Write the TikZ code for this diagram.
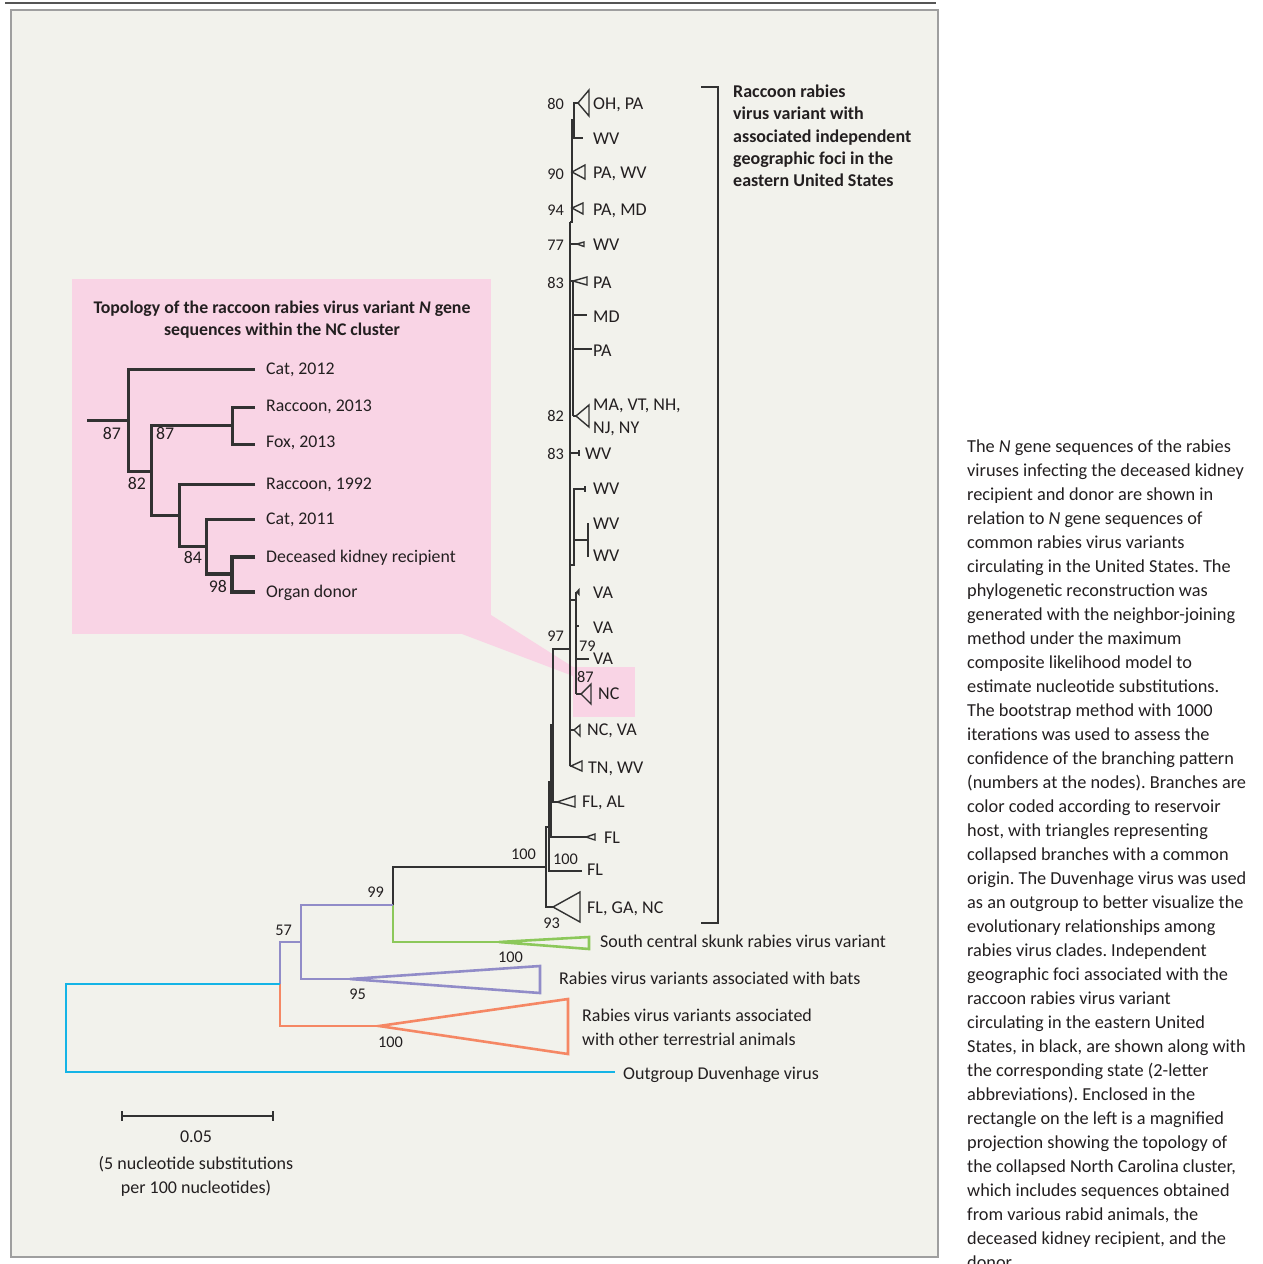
\documentclass[tikz,border=0pt]{standalone}
\usepackage{fontspec}
\setmainfont{Carlito}
\frenchspacing
\definecolor{panel}{RGB}{242,242,236}
\definecolor{pinkbg}{RGB}{249,212,229}
\definecolor{tree}{RGB}{50,50,50}
\definecolor{grn}{RGB}{140,200,90}
\definecolor{pur}{RGB}{145,140,200}
\definecolor{org}{RGB}{245,135,100}
\definecolor{cyn}{RGB}{20,180,230}
\definecolor{txt}{RGB}{35,31,32}
\definecolor{rule}{RGB}{85,85,85}
\begin{document}
\begin{tikzpicture}[x=1pt,y=-1pt,
  tl/.style={draw=tree,line width=1.4pt,line join=miter},
  it/.style={draw=tree,line width=3pt,line join=miter},
  itb/.style={draw=tree,line width=4.8pt,line join=miter},
  pl/.style={draw=pur,line width=2.6pt,line join=miter},
  gl/.style={draw=grn,line width=2.6pt,line join=miter},
  ol/.style={draw=org,line width=2.6pt,line join=miter},
  cl/.style={draw=cyn,line width=2.6pt,line join=miter},
  lab/.style={anchor=west,inner sep=0pt,text=txt,font=\fontsize{18}{22}\selectfont,text height=11.6pt,text depth=0pt},
  ilab/.style={anchor=west,inner sep=0pt,text=txt,font=\fontsize{17.8}{22}\selectfont,text height=11.5pt,text depth=0pt},
  inum/.style={anchor=east,inner sep=0pt,text=txt,font=\fontsize{17.8}{22}\selectfont,text height=11.5pt,text depth=0pt},
  bs/.style={anchor=east,inner sep=0pt,text=txt,font=\fontsize{16.3}{19}\selectfont,text height=10.5pt,text depth=0pt},
  bsl/.style={bs,anchor=west},
  bold/.style={anchor=west,inner sep=0pt,text=txt,font=\fontsize{18}{22}\selectfont\bfseries,text height=11.6pt,text depth=0pt},
  ctr/.style={anchor=center,inner sep=0pt,text=txt,font=\fontsize{18}{22}\selectfont,text height=11.6pt,text depth=0pt},
  rt/.style={anchor=base west,inner sep=0pt,text=txt,font=\fontsize{18.3}{24}\selectfont}]
\useasboundingbox[fill=white] (0,0) rectangle (1262,1264);
% frame
\draw[rule,line width=2.2pt] (5,3) -- (936,3);
\draw[fill=panel,draw=gray!75,line width=1.2pt] (11,10) rectangle (938,1257);
% pink inset and callout
\fill[pinkbg] (72,279) rectangle (491,634);
\fill[pinkbg] (491,615) -- (573,667) -- (573,676) -- (462,634) -- cycle;
\fill[pinkbg] (573,667) rectangle (635,717);
% inset title
\node[anchor=center,inner sep=0pt,text=txt,font=\fontsize{17.8}{22}\selectfont\bfseries] (ti1) at (282,309) {Topology of the raccoon rabies virus variant \textit{N} gene};
\node[anchor=center,inner sep=0pt,text=txt,font=\fontsize{17.8}{22}\selectfont\bfseries] (ti2) at (282,331) {sequences within the NC cluster};
% inset tree
\draw[it] (87,420) -- (128,420);
\draw[it] (255,369) -- (128,369) -- (128,471) -- (151,471);
\draw[it] (255,407) -- (232,407) -- (232,444) -- (255,444);
\draw[it] (232,425) -- (151,425) -- (151,515) -- (179,515);
\draw[it] (255,484) -- (179,484) -- (179,546) -- (206,546);
\draw[it] (255,519) -- (206,519) -- (206,575);
\draw[itb] (205,574) -- (232,574);
\draw[itb] (255,557) -- (232,557) -- (232,592) -- (255,592);
\node[ilab] (c12) at (266,369) {Cat, 2012};
\node[ilab] (r13) at (266,406) {Raccoon, 2013};
\node[ilab] (f13) at (266,442) {Fox, 2013};
\node[ilab] (r92) at (266,484) {Raccoon, 1992};
\node[ilab] (c11) at (266,519) {Cat, 2011};
\node[ilab] (dkr) at (266,557) {Deceased kidney recipient};
\node[ilab] (odn) at (266,592) {Organ donor};
\node[inum] (i87a) at (121,434) {87};
\node[inum,anchor=west] (i87b) at (156,434) {87};
\node[inum] (i82) at (146,484) {82};
\node[inum] (i84) at (202,558) {84};
\node[inum] (i98) at (227,587) {98};
% ---- main tree (black) ----
\draw[tl] (578,103) -- (574,103) -- (574,138) -- (583,138);
\draw[tl] (578,103) -- (589,90) -- (589,116) -- cycle;
\draw[tl] (574,120) -- (572,120) -- (572,222) -- (570,222);
\draw[tl] (572,172) -- (585,165) -- (585,179) -- cycle;
\draw[tl] (572,208) -- (583,203) -- (583,214) -- cycle;
\draw[tl] (570,222) -- (570,766);
\draw[tl] (570,244) -- (577,244);
\draw[tl] (577,244) -- (584,242) -- (584,246.5) -- cycle;
\draw[tl] (570,281) -- (573,281);
\draw[tl] (573,281) -- (587,277) -- (587,285) -- cycle;
\draw[tl] (573,281) -- (573,416);
\draw[tl] (573,315) -- (587,315);
\draw[tl] (573,349) -- (592,349);
\draw[tl] (573,416) -- (576,416);
\draw[tl] (576,416) -- (589,405) -- (589,427) -- cycle;
\draw[tl] (570,453) -- (579,453);
\draw[tl] (579,450) -- (579,456);
\draw[tl] (585,489) -- (574,489) -- (574,565) -- (570,565);
\draw[tl] (585,486) -- (585,492);
\draw[tl] (574,540) -- (588,540);
\draw[tl] (588,523) -- (588,557);
\draw[tl] (570,600) -- (576,600);
\draw[tl] (576,592) -- (576,694);
\fill[tree] (576,592) -- (579.5,588) -- (579.5,596) -- cycle;
\draw[tl] (576,626) -- (578.5,626);
\draw[tl] (576,659) -- (589,659);
\draw[tl] (576,694) -- (581,694);
\draw[tl] (581,694) -- (591,684) -- (591,704) -- cycle;
\draw[tl] (570,730) -- (574,730);
\draw[tl] (574,730) -- (580,725) -- (580,736) -- cycle;
\draw[tl] (570,766) -- (571,766);
\draw[tl] (571,766) -- (582,761) -- (582,771) -- cycle;
\draw[tl] (570,649) -- (553,649) -- (553,802) -- (557,802);
\draw[tl] (557,802) -- (575,796) -- (575,807) -- cycle;
\draw[tl] (553,725) -- (551,725) -- (551,837) -- (586,837);
\draw[tl] (586,837) -- (595,834) -- (595,840) -- cycle;
\draw[tl] (551,782) -- (549,782) -- (549,871) -- (582,871);
\draw[tl] (549,827) -- (546,827) -- (546,907) -- (553,907);
\draw[tl] (553,907) -- (580,892) -- (580,922) -- cycle;
\draw[tl] (546,867) -- (393,867) -- (393,905);
% ---- coloured clades ----
\draw[gl] (393,905) -- (393,942) -- (499,942);
\draw[gl] (499,942) -- (589,937) -- (589,949) -- cycle;
\draw[pl] (393,905) -- (301,905) -- (301,979) -- (350,979);
\draw[pl] (350,979) -- (540,966) -- (540,993) -- cycle;
\draw[pl] (301,942) -- (280,942) -- (280,984);
\draw[ol] (280,984) -- (280,1026) -- (379,1026);
\draw[ol] (379,1026) -- (568,999) -- (568,1054) -- cycle;
\draw[cl] (280,984) -- (66,984) -- (66,1072) -- (615,1072);
% ---- state labels ----
\node[lab] (l1) at (593,104) {OH, PA};
\node[lab] (l2) at (593,139) {WV};
\node[lab] (l3) at (593,173) {PA, WV};
\node[lab] (l4) at (593,210) {PA, MD};
\node[lab] (l5) at (593,245) {WV};
\node[lab] (l6) at (593,283) {PA};
\node[lab] (l7) at (593,317) {MD};
\node[lab] (l8) at (593,351) {PA};
\node[lab] (l9) at (593,405) {MA, VT, NH,};
\node[lab] (l9b) at (593,428) {NJ, NY};
\node[lab] (l10) at (585,454) {WV};
\node[lab] (l11) at (593,489) {WV};
\node[lab] (l12) at (593,524) {WV};
\node[lab] (l13) at (593,556) {WV};
\node[lab] (l14) at (593,593) {VA};
\node[lab] (l15) at (593,628) {VA};
\node[lab] (l16) at (593,659) {VA};
\node[lab] (l17) at (598,694) {NC};
\node[lab] (l18) at (587,730) {NC, VA};
\node[lab] (l19) at (588,768) {TN, WV};
\node[lab] (l20) at (582,802) {FL, AL};
\node[lab] (l21) at (604,838) {FL};
\node[lab] (l22) at (587,870) {FL};
\node[lab] (l23) at (587,908) {FL, GA, NC};
\node[lab] (sk) at (600,942) {South central skunk rabies virus variant};
\node[lab] (bat) at (559,979) {Rabies virus variants associated with bats};
\node[lab] (ter1) at (582,1016) {Rabies virus variants associated};
\node[lab] (ter2) at (582,1040) {with other terrestrial animals};
\node[lab] (out) at (623,1074) {Outgroup Duvenhage virus};
% ---- bootstrap values ----
\node[bs] (b80) at (564,104) {80};
\node[bs] (b90) at (564,174) {90};
\node[bs] (b94) at (564,210) {94};
\node[bs] (b77) at (564,245) {77};
\node[bs] (b83a) at (564,283) {83};
\node[bs] (b82) at (564,416) {82};
\node[bs] (b83b) at (564,454) {83};
\node[bs] (b97) at (564,636) {97};
\node[bsl] (b79) at (579,646) {79};
\node[bsl] (b87) at (577,677) {87};
\node[bs] (b100a) at (536,854) {100};
\node[bsl] (b100b) at (553,859) {100};
\node[bs] (b93) at (560,923) {93};
\node[bs] (b99) at (384,892) {99};
\node[bs] (b57) at (292,930) {57};
\node[bs] (b100c) at (523,957) {100};
\node[bs] (b95) at (366,994) {95};
\node[bs] (b100d) at (403,1042) {100};
% ---- bracket ----
\draw[tl] (701,87) -- (718,87) -- (718,923) -- (701,923);
\node[bold] (br1) at (733,92) {Raccoon rabies};
\node[bold] (br2) at (733,114) {virus variant with};
\node[bold] (br3) at (733,137) {associated independent};
\node[bold] (br4) at (733,159) {geographic foci in the};
\node[bold] (br5) at (733,181) {eastern United States};
% ---- scale bar ----
\draw[tl] (122,1116) -- (273,1116);
\draw[tl] (122,1111) -- (122,1121);
\draw[tl] (273,1111) -- (273,1121);
\node[ctr] (sc1) at (196,1137) {0.05};
\node[ctr] (sc2) at (196,1164) {(5 nucleotide substitutions};
\node[ctr] (sc3) at (196,1188) {per 100 nucleotides)};
% ---- caption ----
\foreach \t [count=\i from 0] in {
 {The \textit{N} gene sequences of the rabies},
 {viruses infecting the deceased kidney},
 {recipient and donor are shown in},
 {relation to \textit{N} gene sequences of},
 {common rabies virus variants},
 {circulating in the United States. The},
 {phylogenetic reconstruction was},
 {generated with the neighbor-joining},
 {method under the maximum},
 {composite likelihood model to},
 {estimate nucleotide substitutions.},
 {The bootstrap method with 1000},
 {iterations was used to assess the},
 {confidence of the branching pattern},
 {(numbers at the nodes). Branches are},
 {color coded according to reservoir},
 {host, with triangles representing},
 {collapsed branches with a common},
 {origin. The Duvenhage virus was used},
 {as an outgroup to better visualize the},
 {evolutionary relationships among},
 {rabies virus clades. Independent},
 {geographic foci associated with the},
 {raccoon rabies virus variant},
 {circulating in the eastern United},
 {States, in black, are shown along with},
 {the corresponding state (2-letter},
 {abbreviations). Enclosed in the},
 {rectangle on the left is a magnified},
 {projection showing the topology of},
 {the collapsed North Carolina cluster,},
 {which includes sequences obtained},
 {from various rabid animals, the},
 {deceased kidney recipient, and the},
 {donor.}}
 \node[rt] (cap\i) at (967,452+24*\i) {\t};
\end{tikzpicture}
\end{document}
